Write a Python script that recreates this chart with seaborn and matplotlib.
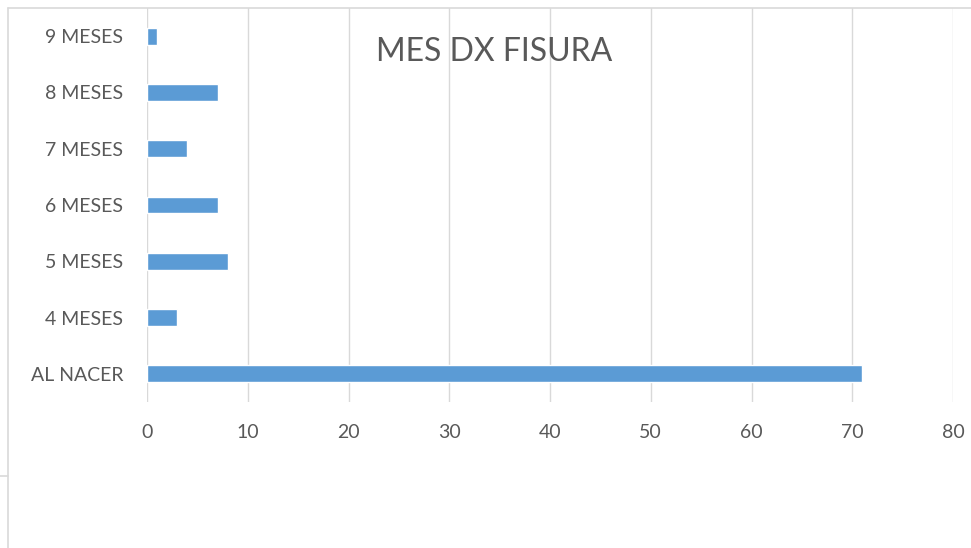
import matplotlib
matplotlib.use("Agg")
import matplotlib.pyplot as plt
import seaborn as sns
import pandas as pd
from matplotlib.lines import Line2D

categories = ["9 MESES", "8 MESES", "7 MESES", "6 MESES", "5 MESES", "4 MESES", "AL NACER"]
values = [1, 7, 4, 7, 8, 3, 71]
x_ticks = [0, 10, 20, 30, 40, 50, 60, 70, 80]
title = "MES DX FISURA"

sns.set_theme(style="white")
plt.rcParams['font.family'] = ['Lato', 'DejaVu Sans']

W, H = 971, 548
fig = plt.figure(figsize=(W / 100, H / 100), dpi=100)
ax = fig.add_axes([147 / W, 1 - 402 / H, (953 - 147) / W, (402 - 8) / H])

df = pd.DataFrame({"cat": categories, "val": values})
sns.barplot(data=df, y="cat", x="val", order=categories, orient="h",
            color="#5B9BD5", saturation=1, width=0.3, ax=ax, zorder=3)

ax.set_xlim(0, 80)
ax.set_ylim(len(categories) - 0.5, -0.5)
ax.set_xticks(x_ticks)
ax.set_xlabel("")
ax.set_ylabel("")
ax.grid(axis="x", color="#D9D9D9", linewidth=1.0, zorder=0)
ax.grid(axis="y", visible=False)
for s in ax.spines.values():
    s.set_visible(False)
ax.tick_params(axis="both", length=0, labelsize=14, colors="#595959")
ax.tick_params(axis="x", pad=16)
ax.tick_params(axis="y", pad=17)

fig.text(494 / W, 1 - 52 / H, title, ha="center", va="center",
         fontsize=23, color="#595959")

# chart frame remnants
lc = "#D9D9D9"
fig.add_artist(Line2D([8 / W, 1], [1 - 8 / H, 1 - 8 / H], color=lc, lw=1.2, transform=fig.transFigure))
fig.add_artist(Line2D([8 / W, 8 / W], [0, 1 - 8 / H], color=lc, lw=1.2, transform=fig.transFigure))
fig.add_artist(Line2D([0, 8 / W], [1 - 476 / H, 1 - 476 / H], color=lc, lw=1.2, transform=fig.transFigure))

fig.savefig("out.png", dpi=100, facecolor="white")
